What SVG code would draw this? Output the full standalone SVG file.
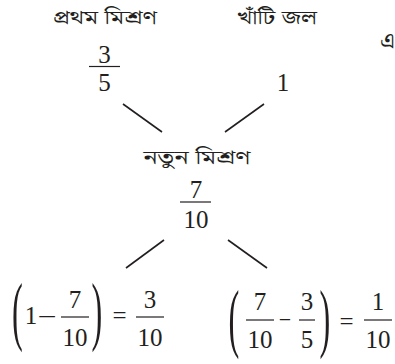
<svg xmlns="http://www.w3.org/2000/svg" width="395" height="364" viewBox="0 0 395 364">
<style>
.bn{font-family:"Noto Serif Bengali","Noto Sans Bengali","Lohit Bengali","Noto Sans",sans-serif;font-size:19px;fill:#231f20;text-anchor:middle}
.n{font-family:"Liberation Serif","Times New Roman",serif;font-size:25px;fill:#231f20;text-anchor:middle}
.bar{stroke:#231f20;stroke-width:1.2}
.ln{stroke:#231f20;stroke-width:1.6;fill:none}
.par{font-family:"Liberation Serif","Times New Roman",serif;font-size:77px;fill:#231f20;text-anchor:middle}
</style>
<rect width="395" height="364" fill="#fff"/>
<g id="connectors">
<line class="ln" x1="123" y1="104" x2="162" y2="132"/>
<line class="ln" x1="225" y1="132" x2="264" y2="104"/>
<line class="ln" x1="126" y1="268" x2="164" y2="240"/>
<line class="ln" x1="228" y1="240" x2="267" y2="268"/>
</g>
<g id="first-mixture">
<text class="bn" x="105" y="24" textLength="104" lengthAdjust="spacingAndGlyphs">প্রথম মিশ্রণ</text>
<text class="n" x="104.5" y="63">3</text>
<line class="bar" x1="89" y1="66.5" x2="120" y2="66.5"/>
<text class="n" x="104.5" y="91">5</text>
</g>
<g id="pure-water">
<text class="bn" x="277" y="24" textLength="80" lengthAdjust="spacingAndGlyphs">খাঁটি জল</text>
<text class="n" x="283" y="91">1</text>
</g>
<text class="bn" x="380" y="48" style="font-size:23px;text-anchor:start">এ</text>
<g id="new-mixture">
<text class="bn" x="197" y="164" textLength="107" lengthAdjust="spacingAndGlyphs">নতুন মিশ্রণ</text>
<text class="n" x="196" y="198">7</text>
<line class="bar" x1="180" y1="202" x2="211" y2="202"/>
<text class="n" x="196" y="228">10</text>
</g>
<g id="left-result">
<text class="par" transform="translate(17.5,336.4) scale(0.42,1)">(</text>
<text class="n" x="31" y="324">1</text>
<text class="n" transform="translate(47,325) scale(1.35,1)">−</text>
<text class="n" x="75" y="308">7</text>
<line class="bar" x1="61" y1="317" x2="89" y2="317"/>
<text class="n" x="75" y="346">10</text>
<text class="par" transform="translate(97,336.4) scale(0.42,1)">)</text>
<text class="n" x="119.5" y="324">=</text>
<text class="n" x="150" y="308">3</text>
<line class="bar" x1="136" y1="317" x2="164" y2="317"/>
<text class="n" x="150" y="346">10</text>
</g>
<g id="right-result">
<text class="par" transform="translate(234,343.4) scale(0.42,1)">(</text>
<text class="n" x="260" y="310">7</text>
<line class="bar" x1="246" y1="320" x2="274" y2="320"/>
<text class="n" x="260" y="348">10</text>
<text class="n" x="285" y="327" style="font-size:22px">−</text>
<text class="n" x="307" y="310">3</text>
<line class="bar" x1="299" y1="320" x2="315" y2="320"/>
<text class="n" x="307" y="348">5</text>
<text class="par" transform="translate(325,343.4) scale(0.42,1)">)</text>
<text class="n" x="346.5" y="330">=</text>
<text class="n" x="378" y="310">1</text>
<line class="bar" x1="364" y1="320" x2="392" y2="320"/>
<text class="n" x="378" y="348">10</text>
</g>
</svg>
